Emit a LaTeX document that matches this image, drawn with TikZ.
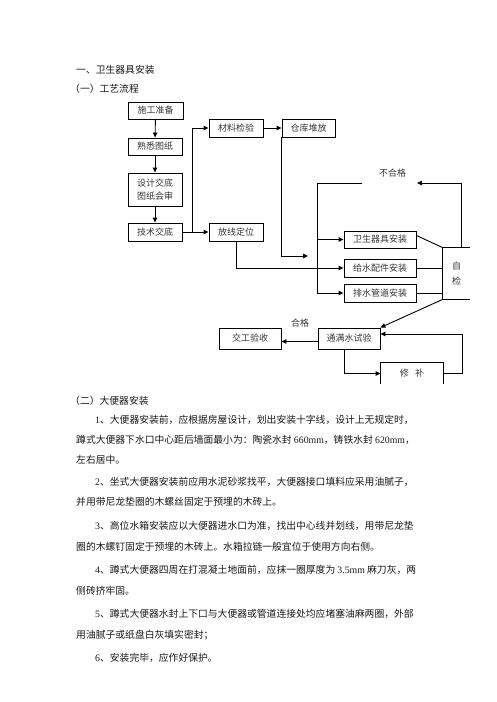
\documentclass[tikz,border=0pt]{standalone}
\usepackage{fontspec}
\usepackage{xcolor}
\usepackage{tikz}
\usetikzlibrary{arrows.meta, calc}
\setmainfont{Noto Sans CJK SC}
\newfontfamily\tnr{Liberation Serif}
\definecolor{DocText}{RGB}{25, 25, 25}
\definecolor{FlowText}{RGB}{55, 55, 55}
\newcommand\lnum[1]{{\tnr #1}}

\begin{document}
\begin{tikzpicture}[x=1pt, y=-1pt,
  flowbox/.style={draw, line width=0.9pt, minimum height=17pt, inner sep=2pt,
    font=\fontsize{9}{11}\selectfont, text=FlowText},
  flowlabel/.style={inner sep=0pt, font=\fontsize{9}{11}\selectfont, text=FlowText},
  arr/.style={line width=0.9pt, -{Triangle[length=5pt,width=4.5pt]}},
  lnk/.style={line width=0.9pt},
  bodyline/.style={anchor=west, inner sep=0pt, font=\fontsize{9.8}{12}\selectfont, text=DocText}]
  \path[fill=white] (0,0) rectangle (496,702);
  \useasboundingbox (0,0) rectangle (496,702);

  % headings
  \node[bodyline] (head) at (76,70) {一、卫生器具安装};
  \node[bodyline] (flowhead) at (70,89) {（一）工艺流程};

  % left column
  \node[flowbox, minimum width=55pt] (prep) at (155.5,110.5) {施工准备};
  \node[flowbox, minimum width=54pt] (read) at (155,146.5) {熟悉图纸};
  \node[flowbox, minimum width=54pt, minimum height=33pt, align=left,
    font=\fontsize{9}{13}\selectfont] (design) at (155,189.5) {设计交底\\图纸会审};
  \node[flowbox, minimum width=54pt, minimum height=18pt] (brief) at (155,232) {技术交底};

  % middle
  \node[flowbox, minimum width=54pt, minimum height=18pt] (check) at (236,128) {材料检验};
  \node[flowbox, minimum width=53pt, minimum height=18pt] (store) at (308.5,128) {仓库堆放};
  \node[flowbox, minimum width=54pt, minimum height=18pt] (layout) at (236,232) {放线定位};

  % installation
  \node[flowbox, minimum width=72pt] (fixture) at (380,239.5) {卫生器具安装};
  \node[flowbox, minimum width=72pt, minimum height=18pt] (supply) at (380,268) {给水配件安装};
  \node[flowbox, minimum width=72pt, minimum height=18pt] (drain) at (380,293) {排水管道安装};
  \node[flowbox, draw=none, minimum width=27pt, minimum height=51pt, align=center,
    font=\fontsize{9}{15}\selectfont] (selfcheck) at (456.5,273.5) {自\\检};
  \draw[lnk] (selfcheck.north east) -- (selfcheck.north west)
    -- (selfcheck.south west) -- (selfcheck.south east);
  \node[flowlabel] (fail) at (392.5,173) {不合格};

  % testing
  \node[flowbox, minimum width=62pt, minimum height=21pt] (test) at (349,338.5) {通满水试验};
  \node[flowbox, minimum width=62pt, minimum height=21pt] (accept) at (250,338.5) {交工验收};
  \node[flowbox, draw=none, minimum width=62pt, minimum height=21pt] (repair) at (412,373.5) {修\hspace{0.7em}补};
  \draw[lnk] (repair.south west) -- (repair.north west)
    -- (repair.north east) -- (repair.south east);
  \node[flowlabel] (pass) at (300,323) {合格};

  % connectors
  \draw[arr] (prep) -- (read);
  \draw[arr] (read) -- (design);
  \draw[arr] (design) -- (brief);
  \draw[arr] (brief) -- (layout);
  \coordinate (split) at ($(brief.east)+(10,0)$);
  \draw[arr] (split) |- (check.west);
  \draw[arr] (check) -- (store);
  \coordinate (storeend) at (308,256);
  \draw[arr] (store.south west) |- (storeend);
  \draw[arr] (layout.south) |- (supply.west);

  \coordinate (rejtip) at (417,183);
  \coordinate (rejtail) at (362,183);
  \coordinate (bus) at (317,183);
  \draw[arr] ([xshift=4.5pt]selfcheck.north) |- (rejtip);
  \draw[lnk] (rejtail) -- (bus);
  \draw[arr] (bus) |- (drain.west);
  \draw[arr] (bus |- fixture.west) -- (fixture.west);

  \draw[lnk] ([yshift=4pt]fixture.east) -- (selfcheck.north west);
  \draw[lnk] (supply.east) -- (supply.east -| selfcheck.west);
  \draw[lnk] (drain.east) -- (drain.east -| selfcheck.west);
  \draw[arr] (selfcheck.south west) -- (test.north east);

  \draw[arr] ([yshift=-3pt]test.west) -- ([yshift=-3pt]accept.east);
  \draw[arr] ([xshift=-5pt]test.south) |- (repair.west);
  \draw[arr] (repair.east) -- ++(19,0) |- ([yshift=4.5pt]test.east);

  % text body
  \node[bodyline] (toilethead) at (70,401) {（二）大便器安装};
  \node[bodyline] (p1a) at (95,420) {\lnum{1}、大便器安装前，应根据房屋设计，划出安装十字线，设计上无规定时，};
  \node[bodyline] (p1b) at (76,440) {蹲式大便器下水口中心距后墙面最小为：陶瓷水封 \lnum{660mm}，铸铁水封 \lnum{620mm}，};
  \node[bodyline] (p1c) at (76,460) {左右居中。};
  \node[bodyline] (p2a) at (95,482) {\lnum{2}、坐式大便器安装前应用水泥砂浆找平，大便器接口填料应采用油腻子，};
  \node[bodyline] (p2b) at (76,502) {并用带尼龙垫圈的木螺丝固定于预埋的木砖上。};
  \node[bodyline] (p3a) at (95,526) {\lnum{3}、高位水箱安装应以大便器进水口为准，找出中心线并划线，用带尼龙垫};
  \node[bodyline] (p3b) at (76,547) {圈的木螺钉固定于预埋的木砖上。水箱拉链一般宜位于使用方向右侧。};
  \node[bodyline] (p4a) at (95,570) {\lnum{4}、蹲式大便器四周在打混凝土地面前，应抹一圈厚度为 \lnum{3.5mm} 麻刀灰，两};
  \node[bodyline] (p4b) at (76,591) {侧砖挤牢固。};
  \node[bodyline] (p5a) at (95,614) {\lnum{5}、蹲式大便器水封上下口与大便器或管道连接处均应堵塞油麻两圈，外部};
  \node[bodyline] (p5b) at (76,635) {用油腻子或纸盘白灰填实密封；};
  \node[bodyline] (p6a) at (95,658) {\lnum{6}、安装完毕，应作好保护。};
\end{tikzpicture}
\end{document}
